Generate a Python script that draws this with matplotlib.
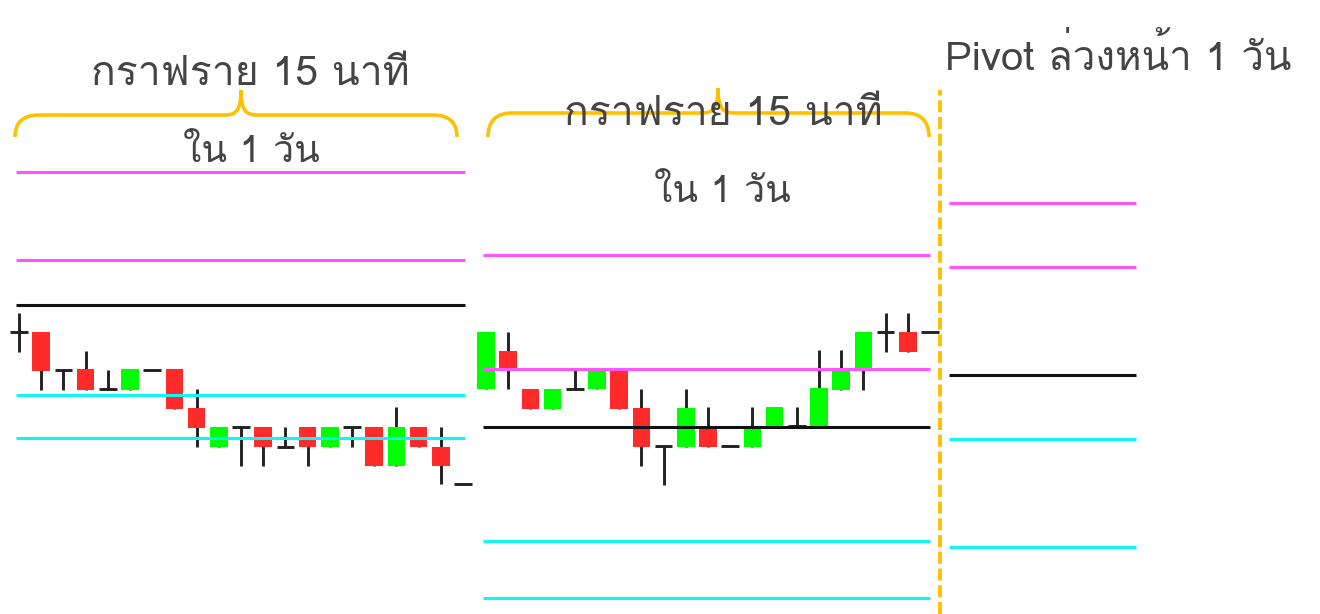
"""Pivot ล่วงหน้า 1 วัน — กราฟแท่งเทียน 15 นาที สองวัน + เส้น pivot วันถัดไป"""

import matplotlib
matplotlib.use("Agg")
import matplotlib.pyplot as plt
from matplotlib import font_manager
from matplotlib.ft2font import FT2Font
from matplotlib.path import Path
from matplotlib.patches import PathPatch

# ── ข้อมูล (ระดับราคา, หน่วยเดียวกันทั้งภาพ) ──────────────────────────────────

# วันแรก: open, high, low, close
DAY1_OPEN = [282, 282, 244, 245, 225, 224, 244, 245, 206, 167, 187,
             187, 167, 187, 167, 187, 187, 148, 187, 167, 130]
DAY1_HIGH = [301, 282, 244, 263, 244, 245, 244, 245, 225, 187, 187,
             187, 187, 187, 187, 187, 187, 207, 187, 187, 130]
DAY1_LOW = [262, 224, 224, 224, 225, 224, 244, 205, 167, 167, 148,
            148, 167, 148, 167, 167, 148, 148, 167, 130, 130]
DAY1_CLOSE = [282, 243, 244, 224, 225, 245, 244, 205, 186, 187, 187,
              167, 167, 167, 187, 187, 148, 187, 167, 148, 130]
DAY1_LEVELS = {"R2": 442, "R1": 354, "PP": 309, "S1": 219, "S2": 176}

# วันที่สอง
DAY2_OPEN = [225, 263, 225, 205, 225, 225, 245, 206, 168, 167, 187,
             168, 167, 188, 188, 188, 224, 246, 282, 282, 282]
DAY2_HIGH = [282, 282, 225, 225, 245, 245, 245, 225, 168, 225, 207,
             168, 207, 207, 207, 264, 264, 282, 301, 301, 282]
DAY2_LOW = [225, 225, 205, 205, 225, 225, 205, 148, 129, 167, 167,
            168, 167, 188, 188, 188, 224, 224, 262, 262, 282]
DAY2_CLOSE = [282, 245, 205, 225, 225, 245, 205, 167, 168, 206, 167,
              168, 187, 207, 188, 226, 245, 282, 282, 262, 282]
DAY2_LEVELS = {"R2": 359, "R1": 245, "PP": 187, "S1": 73, "S2": 16}

# pivot ที่คำนวณไว้ล่วงหน้าสำหรับวันถัดไป
NEXT_LEVELS = {"R2": 411, "R1": 347, "PP": 239, "S1": 175, "S2": 67}

TITLE_15M = "กราฟราย 15 นาที"
TITLE_DAY = "ใน 1 วัน"
TITLE_PIVOT = "Pivot ล่วงหน้า 1 วัน"

# ── สไตล์ ────────────────────────────────────────────────────────────────────

UP_COLOR = "#00ff00"
DOWN_COLOR = "#ff2a2a"
WICK_COLOR = "#222222"
LEVEL_COLORS = {"R2": "#ff55ff", "R1": "#ff55ff", "PP": "#111111",
                "S1": "#11f5f5", "S2": "#11f5f5"}
BRACE_COLOR = "#ffc000"
TEXT_COLOR = "#444444"

STEP = 22.2
BODY_W = 17.5


def find_thai_font() -> str | None:
    for f in font_manager.fontManager.ttflist:
        try:
            if 0x0E01 in FT2Font(f.fname).get_charmap():
                return f.name
        except Exception:
            continue
    return None


thai = find_thai_font()
FAMILY = [thai, "DejaVu Sans"] if thai else ["DejaVu Sans"]


def draw_candles(ax, x0, opens, highs, lows, closes):
    for i, (o, h, l, c) in enumerate(zip(opens, highs, lows, closes)):
        x = x0 + i * STEP
        if h > l:
            ax.plot([x, x], [l, h], color=WICK_COLOR, lw=2.1,
                    solid_capstyle="butt", zorder=2)
        if o == c:
            ax.plot([x - BODY_W / 2, x + BODY_W / 2], [o, o],
                    color=WICK_COLOR, lw=2.1, solid_capstyle="butt", zorder=3)
        else:
            color = UP_COLOR if c > o else DOWN_COLOR
            ax.bar(x, abs(c - o), BODY_W, bottom=min(o, c), color=color,
                   edgecolor="none", zorder=3)


def draw_levels(ax, x_start, x_end, levels):
    for name, y in levels.items():
        ax.plot([x_start, x_end], [y, y], color=LEVEL_COLORS[name],
                lw=2.2, solid_capstyle="butt", zorder=4)


def draw_brace(ax, x0, x1, xm, y_end, y_flat, y_tip):
    r = 24
    t = 16
    verts = [
        (x0, y_end),
        (x0, y_flat), (x0 + r, y_flat),
        (xm - t, y_flat),
        (xm - 4, y_flat), (xm, y_flat + 6), (xm, y_tip),
        (xm, y_flat + 6), (xm + 4, y_flat), (xm + t, y_flat),
        (x1 - r, y_flat),
        (x1, y_flat), (x1, y_end),
    ]
    codes = [Path.MOVETO,
             Path.CURVE3, Path.CURVE3,
             Path.LINETO,
             Path.CURVE4, Path.CURVE4, Path.CURVE4,
             Path.CURVE4, Path.CURVE4, Path.CURVE4,
             Path.LINETO,
             Path.CURVE3, Path.CURVE3]
    ax.add_patch(PathPatch(Path(verts, codes), facecolor="none",
                           edgecolor=BRACE_COLOR, lw=2.6, capstyle="butt",
                           zorder=1))


fig = plt.figure(figsize=(13.2, 6.14), dpi=100)
ax = fig.add_axes([0, 0, 1, 1])
ax.set_xlim(0, 1320)
ax.set_ylim(0, 614)
ax.axis("off")

txt = dict(color=TEXT_COLOR, family=FAMILY, fontweight="light", zorder=5)

# วันแรก
draw_levels(ax, 16, 465, DAY1_LEVELS)
draw_candles(ax, 19, DAY1_OPEN, DAY1_HIGH, DAY1_LOW, DAY1_CLOSE)
draw_brace(ax, 15, 457, 241, 477, 499, 524)
ax.text(250, 529, TITLE_15M, ha="center", va="baseline", fontsize=29.5, **txt)
ax.text(251, 452, TITLE_DAY, ha="center", va="baseline", fontsize=27, **txt)

# วันที่สอง
draw_levels(ax, 483, 930, DAY2_LEVELS)
draw_candles(ax, 486, DAY2_OPEN, DAY2_HIGH, DAY2_LOW, DAY2_CLOSE)
draw_brace(ax, 488, 929, 718, 477, 501, 526)
ax.text(723, 489, TITLE_15M, ha="center", va="baseline", fontsize=29.5, **txt)
ax.text(722, 412, TITLE_DAY, ha="center", va="baseline", fontsize=27, **txt)

# เส้นแบ่ง + pivot วันถัดไป
ax.plot([940, 940], [0, 524], color=BRACE_COLOR, lw=2.8,
        linestyle=(0, (3.1, 1.2)), zorder=1)
draw_levels(ax, 949, 1136, NEXT_LEVELS)
ax.text(945, 544, TITLE_PIVOT, ha="left", va="baseline", fontsize=29, **txt)

fig.savefig("out.png", dpi=100)
